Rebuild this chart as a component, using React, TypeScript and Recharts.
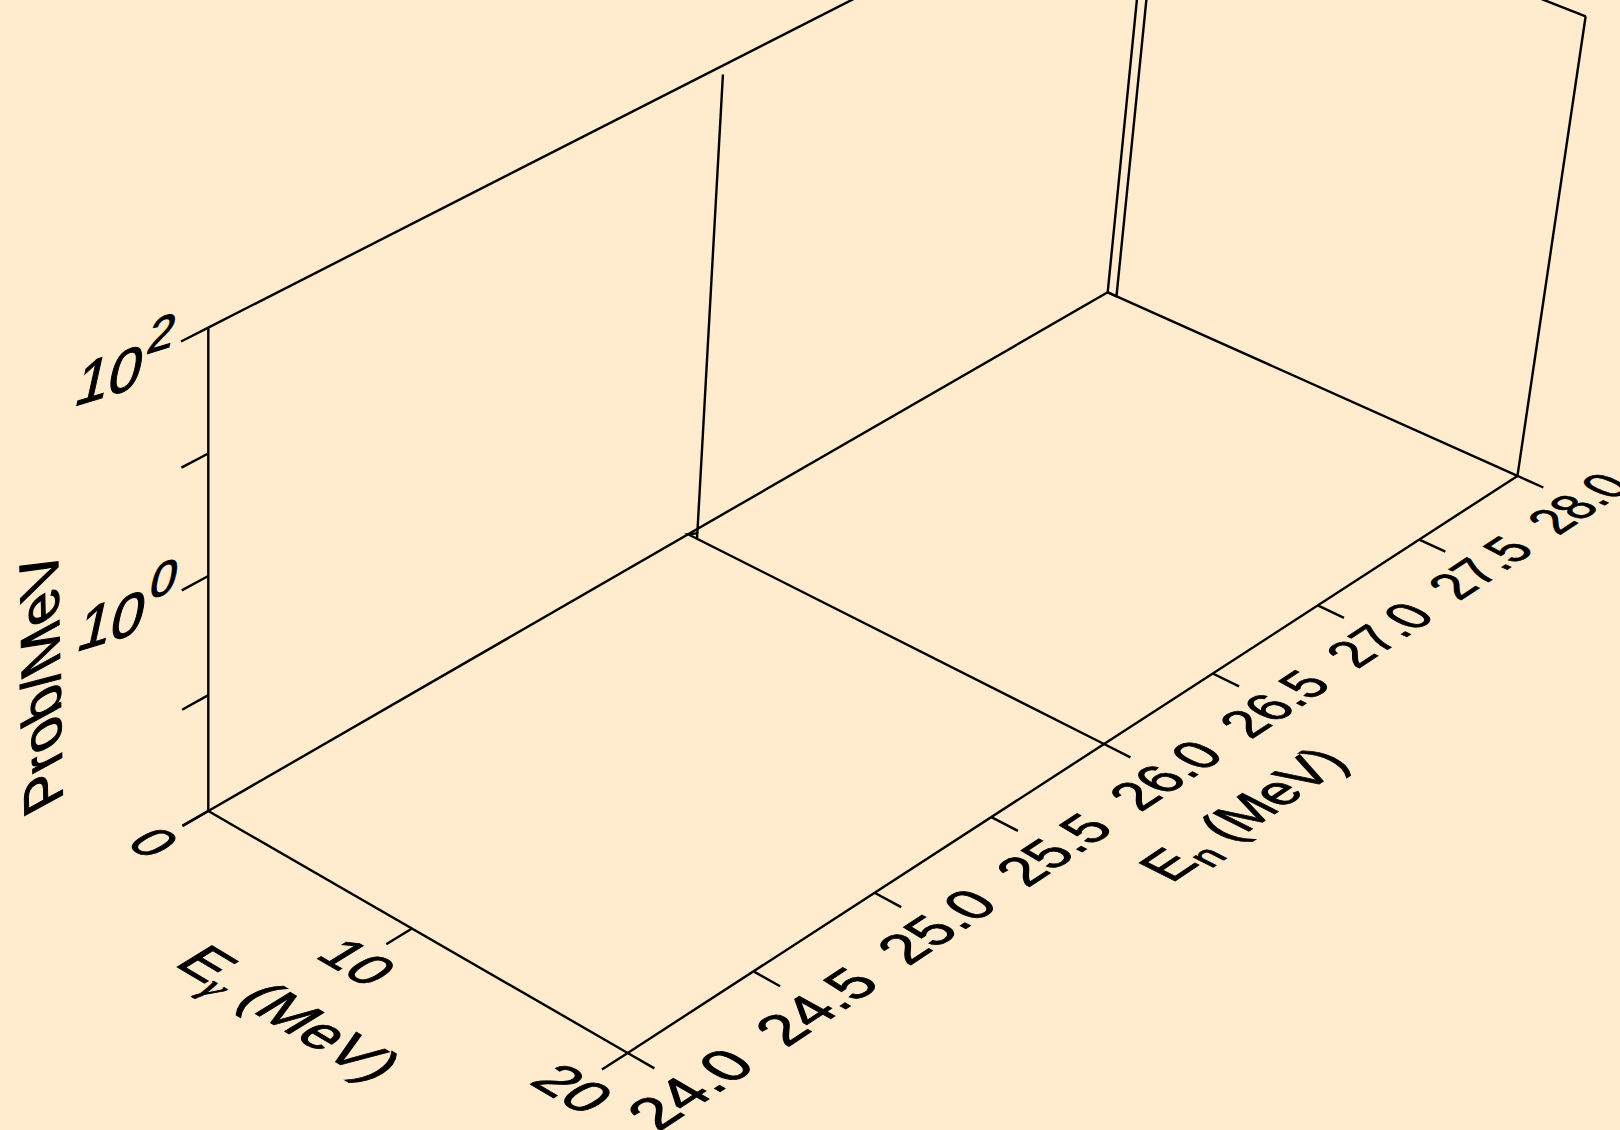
import React from 'react';
import { ScatterChart, Scatter, XAxis, YAxis, ReferenceLine } from 'recharts';

const WIDTH = 1620;
const HEIGHT = 1130;
const BG = '#FFEBCD';
const INK = '#000000';
const FONT = '"Liberation Sans", Arial, Helvetica, sans-serif';
const FS = 40; // local font size, scaled by each label's frame
const LINE_W = 2.4;

// box ranges: E_gamma (MeV), E_n (MeV), log10 Prob/MeV
const EG_RANGE = [0, 20];
const EN_RANGE = [24, 28];
const LG_RANGE = [-2, 2];

const EG_TICKS = [0, 10, 20];
const EN_TICKS = [24.0, 24.5, 25.0, 25.5, 26.0, 26.5, 27.0, 27.5, 28.0];
const LG_TICKS = [-2, -1, 0, 1, 2];
const LG_LABELED = [0, 2];

// spectra along E_gamma at fixed E_n (log10 Prob/MeV, clipped to the box)
const LINE_26_EN = 26;
const LINE_26_EG = [20, 0, 0.45, 0.45, 0.45];
const LINE_26_LG = [-2, -2, -1.95, -2, 2];
const LINE_28_EN = 28;
const LINE_28_EG = [0, 0, 0.45, 0.45];
const LINE_28_LG = [2, -2, -2, 2];

// perspective camera: image of the (0, 24, bottom) corner, vanishing points of
// the three box directions and their depth weights
const CAM_O = [208.3, 811];
const CAM_VP = [
  [-6948, -3317],
  [7366, -3317],
  [208.3, 9300],
];
const CAM_K = [-0.002768, 0.035928, -0.01347];

type P3 = [number, number, number];

const project = (eg: number, en: number, lg: number) => {
  const k = [
    (eg - EG_RANGE[0]) * CAM_K[0],
    (en - EN_RANGE[0]) * CAM_K[1],
    (lg - LG_RANGE[0]) * CAM_K[2],
  ];
  const w = 1 + k[0] + k[1] + k[2];
  const x = (CAM_O[0] + k[0] * CAM_VP[0][0] + k[1] * CAM_VP[1][0] + k[2] * CAM_VP[2][0]) / w;
  const y = (CAM_O[1] + k[0] * CAM_VP[0][1] + k[1] * CAM_VP[1][1] + k[2] * CAM_VP[2][1]) / w;
  return { x, y };
};

const pt = (p: P3) => project(p[0], p[1], Math.max(LG_RANGE[0], Math.min(LG_RANGE[1], p[2])));

// screen vectors of one em along baseline (d1) and glyph-up (d2) directions in 3D
const frame = (p: P3, d1: P3, d2: P3) => {
  const h = 0.01;
  const a = pt(p);
  const b = project(p[0] + d1[0] * h, p[1] + d1[1] * h, p[2] + d1[2] * h);
  const c = project(p[0] + d2[0] * h, p[1] + d2[1] * h, p[2] + d2[2] * h);
  const B = [(b.x - a.x) / h, (b.y - a.y) / h];
  const U = [(c.x - a.x) / h, (c.y - a.y) / h];
  return [B[0] / FS, B[1] / FS, -U[0] / FS, -U[1] / FS];
};

type Part = { t: string; kind?: 'sub' | 'sup' | 'greek' };
type Label = { x: number; y: number; parts: Part[]; m: number[] };

const makeLabel = (p: P3, parts: Part[], d1: P3, d2: P3): Label => {
  const a = pt(p);
  return { x: a.x, y: a.y, parts, m: frame(p, d1, d2) };
};

const egLabels: Label[] = EG_TICKS.map((v) =>
  makeLabel([v, 23.79, -2], [{ t: String(v) }], [2.3, 0, 0], [0, 0.185, 0])
);
egLabels.push(
  makeLabel(
    [10.4, 23.5, -2],
    [{ t: 'E' }, { t: 'γ', kind: 'greek' }, { t: ' (MeV)' }],
    [2.4, 0, 0],
    [0, 0.19, 0]
  )
);

const enLabels: Label[] = EN_TICKS.map((v) =>
  makeLabel([22.8, v, -2], [{ t: v.toFixed(1) }], [0, 0.2, 0], [-2.3, 0, 0])
);
enLabels.push(
  makeLabel([26.2, 26, -2], [{ t: 'E' }, { t: 'n', kind: 'sub' }, { t: ' (MeV)' }], [0, 0.2, 0], [-2.3, 0, 0])
);

const probTitle: Label[] = [
  makeLabel([0, 23.38, -0.13], [{ t: 'Prob/MeV' }], [0, 0, 0.47], [0, -0.2, 0]),
];

// exponent labels sit in a slanted plane of their own
const LG_FRAME = [59 / FS, -18 / FS, -14 / FS, 63 / FS];
const lgLabels: Label[] = LG_LABELED.map((v) => {
  const a = pt([0, 23.69, v + 0.04]);
  return { x: a.x, y: a.y, parts: [{ t: '10' }, { t: String(v), kind: 'sup' }], m: LG_FRAME };
});

const seg = (p: P3, q: P3) => [pt(p), pt(q)];

const [E0, E1] = EG_RANGE;
const [N0, N1] = EN_RANGE;
const [L0, L1] = LG_RANGE;

const boxEdges = [
  seg([E0, N0, L0], [E1, N0, L0]),
  seg([E1, N0, L0], [E1, N1, L0]),
  seg([E0, N0, L0], [E0, N1, L0]),
  seg([E0, N1, L0], [E1, N1, L0]),
  seg([E0, N0, L0], [E0, N0, L1]),
  seg([E1, N1, L0], [E1, N1, L1]),
  seg([E0, N0, L1], [E0, N1, L1]),
  seg([E0, N1, L1], [E1, N1, L1]),
];

const tickSegs = [
  ...EG_TICKS.map((v) => seg([v, N0, L0], [v, N0 - 0.1, L0])),
  ...EN_TICKS.map((v) => seg([E1, v, L0], [E1 + 1.2, v, L0])),
  ...LG_TICKS.map((v) => seg([E0, N0, v], [E0, N0 - 0.1, v])),
];

const line26 = LINE_26_EG.map((eg, i) => pt([eg, LINE_26_EN, LINE_26_LG[i]]));
const line28 = LINE_28_EG.map((eg, i) => pt([eg, LINE_28_EN, LINE_28_LG[i]]));

const LabelShape = (props: any) => {
  const { cx, cy, payload } = props;
  const [a, b, c, d] = payload.m;
  let shift = 0;
  const spans = payload.parts.map((p: Part, i: number) => {
    let target = 0;
    let size = FS;
    let family = FONT;
    let style = 'normal';
    if (p.kind === 'sub') {
      target = 0.3 * FS;
      size = 0.72 * FS;
    } else if (p.kind === 'greek') {
      target = 0.3 * FS;
      size = 0.7 * FS;
      family = '"Liberation Serif", "Times New Roman", serif';
      style = 'italic';
    } else if (p.kind === 'sup') {
      target = -0.45 * FS;
      size = 0.8 * FS;
    }
    const dy = target - shift;
    shift = target;
    return (
      <tspan key={i} dy={dy} fontSize={size} fontFamily={family} fontStyle={style}>
        {p.t}
      </tspan>
    );
  });
  return (
    <text
      transform={`matrix(${a} ${b} ${c} ${d} ${cx} ${cy})`}
      fontSize={FS}
      fontFamily={FONT}
      fill={INK}
      stroke={INK}
      strokeWidth={0.7}
      textAnchor="middle"
      dominantBaseline="central"
    >
      {spans}
    </text>
  );
};

const NoDot = () => <g />;

const App: React.FC = () => {
  return (
    <div style={{ position: 'absolute', left: 0, top: 0, width: WIDTH, height: HEIGHT, background: BG }}>
      <ScatterChart width={WIDTH} height={HEIGHT} margin={{ top: 0, right: 0, bottom: 0, left: 0 }}>
        <XAxis type="number" dataKey="x" domain={[0, WIDTH]} allowDataOverflow hide />
        <YAxis type="number" dataKey="y" domain={[0, HEIGHT]} allowDataOverflow reversed hide />
        {boxEdges.map((s, i) => (
          <ReferenceLine
            key={`box-${i}`}
            segment={s}
            stroke={INK}
            strokeWidth={LINE_W}
            ifOverflow="visible"
          />
        ))}
        {tickSegs.map((s, i) => (
          <ReferenceLine
            key={`tick-${i}`}
            segment={s}
            stroke={INK}
            strokeWidth={LINE_W}
            ifOverflow="visible"
          />
        ))}
        <Scatter
          data={line26}
          line={{ stroke: INK, strokeWidth: LINE_W }}
          lineType="joint"
          shape={NoDot}
          isAnimationActive={false}
        />
        <Scatter
          data={line28}
          line={{ stroke: INK, strokeWidth: LINE_W }}
          lineType="joint"
          shape={NoDot}
          isAnimationActive={false}
        />
        <Scatter data={egLabels} shape={LabelShape} isAnimationActive={false} />
        <Scatter data={enLabels} shape={LabelShape} isAnimationActive={false} />
        <Scatter data={lgLabels} shape={LabelShape} isAnimationActive={false} />
        <Scatter data={probTitle} shape={LabelShape} isAnimationActive={false} />
      </ScatterChart>
    </div>
  );
};

export default App;
